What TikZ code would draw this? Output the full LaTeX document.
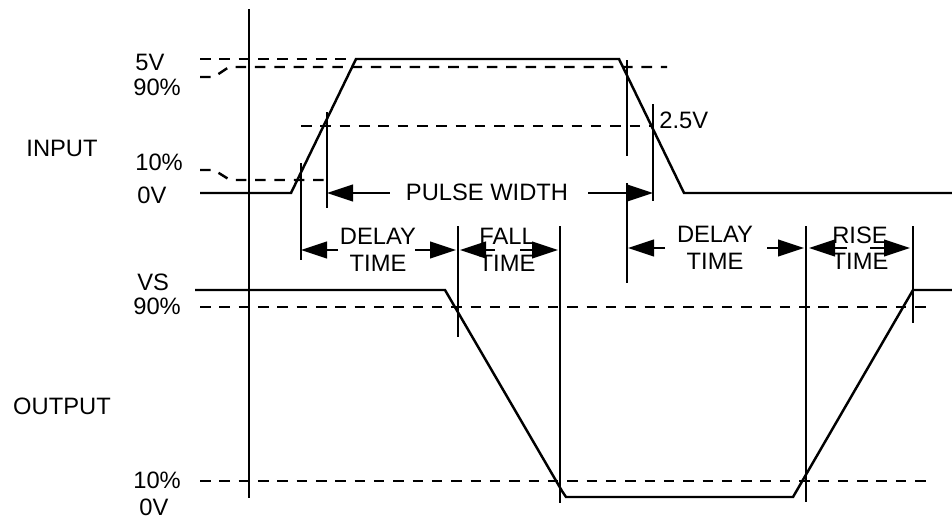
\documentclass[tikz,border=0pt]{standalone}
\usepackage{fontspec}
\setmainfont{Liberation Sans}
\usepackage{tikz}
\usetikzlibrary{arrows.meta}
\tikzset{
  sig/.style={line width=1.4pt},
  lvl/.style={line width=1.4pt,dash pattern=on 6pt off 5pt},
  marker/.style={line width=1.4pt},
  dim/.style={line width=1.4pt,-{Triangle[length=0.52cm,width=0.33cm]}},
  lbl/.style={font=\fontsize{13.5}{15}\selectfont,inner sep=0pt,align=center}
}

\begin{document}
\begin{tikzpicture}[x=0.02cm,y=-0.02cm]
  \useasboundingbox (0,0) rectangle (952,521);
  % time axis
  \draw[sig] (249,9) -- (249,498);

  % input levels
  \draw[lvl] (200,59) -- (356,59);
  \draw[lvl] (200,77) -- (214,77) -- (229,67) -- (667,67);
  \draw[lvl] (200,170) -- (214,170) -- (230,180) -- (327,180);
  \draw[lvl] (301,126) -- (653,126);
  % input pulse
  \draw[sig] (200,193) -- (291,193) -- (356,59) -- (619,59) -- (684,193) -- (952,193);

  % output levels
  \draw[lvl] (200,307) -- (930,307);
  \draw[lvl] (200,481) -- (930,481);
  % output pulse
  \draw[sig] (195,290) -- (445,290) -- (562,491) -- (566,497) -- (793,497) -- (913,290) -- (952,290);

  % markers
  \foreach \x/\ya/\yb in {301/163/260, 327/112/208, 627/60/156, 627/183/283,
                          653/104/201, 458/226/337, 560/226/503,
                          806/226/502, 913/226/323}
    \draw[marker] (\x,\ya) -- (\x,\yb);

  % left labels
  \node[lbl] (in)  at (62,148) {INPUT};
  \node[lbl] (out) at (62,406) {OUTPUT};
  \node[lbl,anchor=west] (v5)  at (135,62)  {5V};
  \node[lbl,anchor=west] (i90) at (133,87)  {90\%};
  \node[lbl,anchor=west] (i10) at (135,162) {10\%};
  \node[lbl,anchor=west] (i0)  at (137,195) {0V};
  \node[lbl,anchor=west] (vs)  at (137,282) {VS};
  \node[lbl,anchor=west] (o90) at (133,306) {90\%};
  \node[lbl,anchor=west] (o10) at (133,480) {10\%};
  \node[lbl,anchor=west] (o0)  at (139,507) {0V};
  \node[lbl,anchor=west] (half) at (659,120) {2.5V};

  % pulse width
  \node[lbl] (pw) at (487,192) {PULSE WIDTH};
  \coordinate (pwL) at (327,193);
  \coordinate (pwR) at (653,193);
  \draw[dim] (pw.west) ++(-16,1) -- (pwL);
  \draw[dim] (pw.east) ++(20,1) -- (pwR);

  % delay time (input to output fall)
  \node[lbl] (dt1) at (378,250) {DELAY\\TIME};
  \draw[dim] (338,250) -- (301,250);
  \draw[dim] (415,250) -- (456,250);
  % fall time
  \node[lbl] (ft) at (507,250) {FALL\\TIME};
  \draw[dim] (495,250) -- (460,250);
  \draw[dim] (520,250) -- (558,250);
  % delay time (input to output rise)
  \node[lbl] (dt2) at (715,248) {DELAY\\TIME};
  \draw[dim] (665,248) -- (628,248);
  \draw[dim] (767,248) -- (804,248);
  % rise time
  \node[lbl] (rt) at (860,248) {RISE\\TIME};
  \draw[dim] (847,248) -- (809,248);
  \draw[dim] (870,248) -- (910,248);
\end{tikzpicture}
\end{document}
